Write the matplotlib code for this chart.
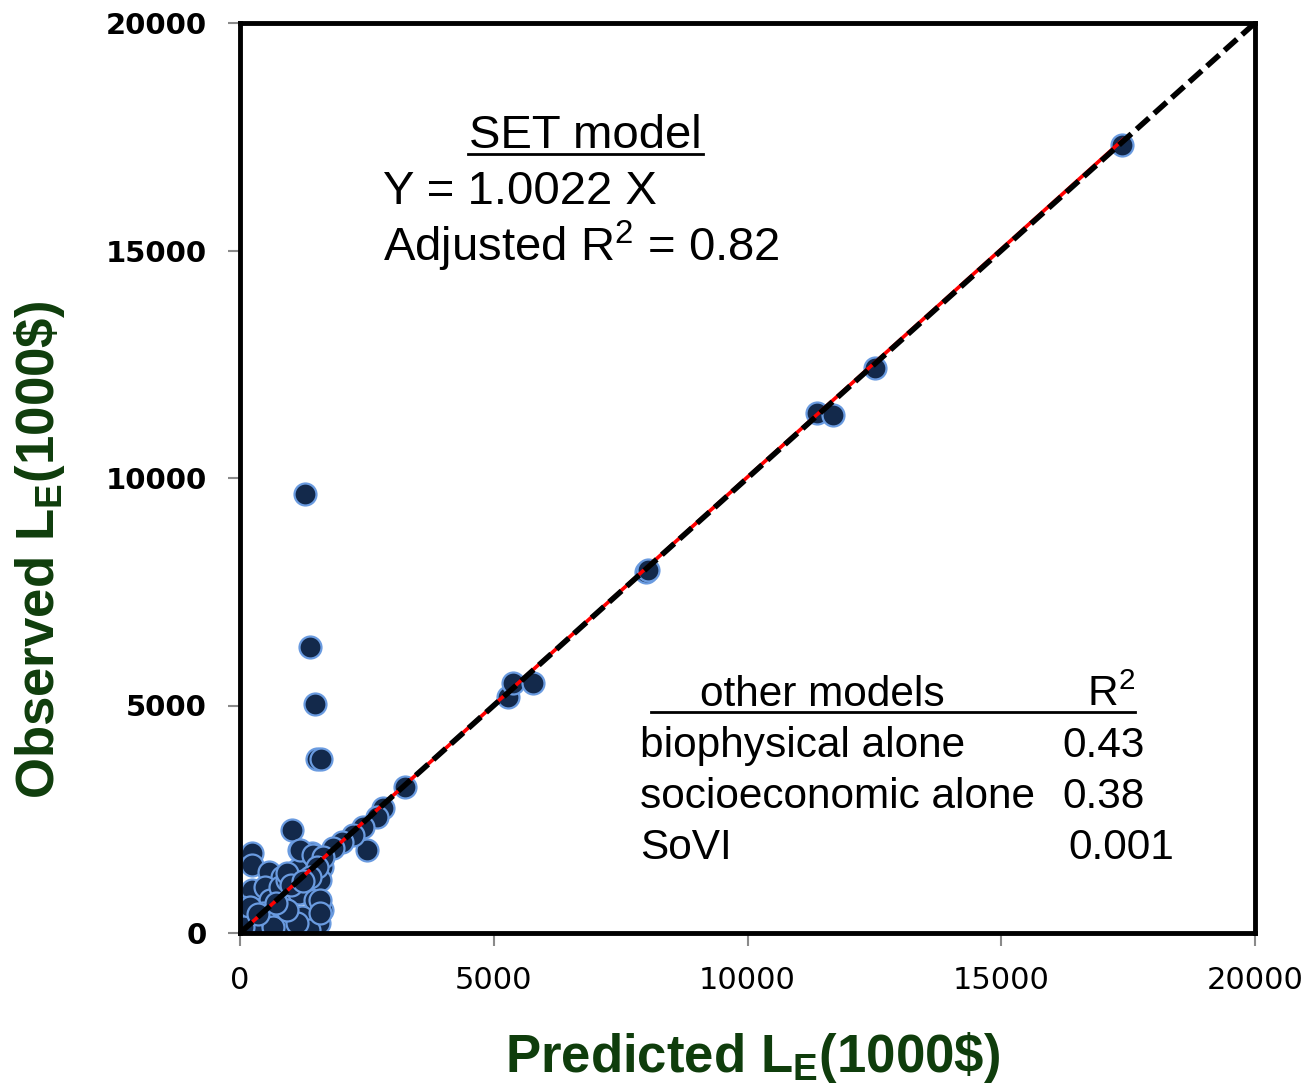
import matplotlib
matplotlib.use('Agg')
import matplotlib.pyplot as plt

plt.rcParams['mathtext.fontset'] = 'custom'
plt.rcParams['mathtext.rm'] = 'Liberation Sans'
plt.rcParams['mathtext.bf'] = 'Liberation Sans:bold'
plt.rcParams['lines.scale_dashes'] = False

# predicted vs observed losses (1000$)
predicted = [236, 236, 570, 830, 1160, 1420, 1610, 1280, 236, 490, 890, 1160, 1480,
             1610, 1560, 1220, 1020, 490, 100, 40, 20, 630, 890, 236, 770, 1360,
             590, 450, 200, 60, 650, 790, 920, 1120, 1580, 1580, 1580, 1120, 920,
             1020, 2500, 1180, 1440, 920, 3250, 2820, 2700, 2420, 2230, 2010, 1830,
             1640, 1520, 1380, 350, 700, 1000, 1250,
             1280, 1380, 1480, 1520, 1600,
             5280, 5380, 5770, 8000, 8040, 11370, 11680, 12510, 17380]
observed = [1758, 1495, 1340, 1230, 1820, 1760, 1450, 1320, 945, 1010, 945, 880, 725,
            505, 220, 350, 130, 286, 286, 570, 60, 570, 505, 66, 66, 66,
            730, 440, 570, 130, 130, 1010, 1160, 1380, 1160, 730, 440, 220, 510,
            2260, 1820, 1820, 1710, 1320, 3200, 2750, 2550, 2330, 2150, 2000, 1870,
            1670, 1450, 1230, 420, 650, 1050, 1150,
            9650, 6290, 5030, 3830, 3820,
            5190, 5490, 5490, 7930, 7980, 11430, 11380, 12420, 17320]

slope = 1.0022
fit_end = 17400
ticks = [0, 5000, 10000, 15000, 20000]

other_models = ['biophysical alone', 'socioeconomic alone', 'SoVI']
other_r2 = ['0.43', '0.38', '0.001']

green = '#0f3d0c'

fig = plt.figure(figsize=(13.16, 10.84), dpi=100)
ax = fig.add_axes([240/1316, 1 - 933/1084, 1015/1316, 910/1084])

ax.scatter(predicted, observed, s=250, color='#13294b', edgecolors='#6a9be0',
           linewidths=1.6, zorder=2)
ax.plot([0, fit_end], [0, slope*fit_end], color='red', lw=2.6, zorder=3)
ax.plot([0, 20000], [0, 20000], color='black', lw=4, dashes=(12, 5), zorder=4)

ax.set_xlim(0, 20000)
ax.set_ylim(0, 20000)
ax.set_xticks(ticks)
ax.set_yticks(ticks)
for s in ax.spines.values():
    s.set_linewidth(3.5)
    s.set_color('black')
ax.tick_params(axis='both', length=9, width=1.5, color='#8a8a8a')
ax.tick_params(axis='x', pad=15, labelsize=22)
ax.tick_params(axis='y', pad=15, labelsize=21)
for lbl in ax.get_yticklabels():
    lbl.set_fontweight('bold')

fig.text(752/1316, 1 - 1072/1084, r'Predicted L$_\mathbf{E}$(1000\$)', color=green,
         fontsize=38, fontweight='bold', family='Liberation Sans',
         ha='center', va='baseline')
fig.text(40/1316, 1 - 550/1084, r'Observed L$_\mathbf{E}$(1000\$)', color=green,
         fontsize=38, fontweight='bold', family='Liberation Sans',
         ha='center', va='center', rotation=90)

# SET model box
def axf(px, py):
    return (px - 240) / 1015, (933 - py) / 910

tkw = dict(transform=ax.transAxes, family='Liberation Sans', color='black', va='baseline')
ax.text(*axf(585, 148), 'SET model', fontsize=34, ha='center', **tkw)
ax.plot(*zip(axf(468, 154), axf(703, 154)), transform=ax.transAxes, color='black', lw=2)
ax.text(*axf(383, 204), 'Y = 1.0022 X', fontsize=34, ha='left', **tkw)
ax.text(*axf(383, 261), r'Adjusted R$^2$ = 0.82', fontsize=34, ha='left', **tkw)

# other models table
ax.text(*axf(822, 706), 'other models', fontsize=30.5, ha='center', **tkw)
ax.text(*axf(1135, 706), r'R$^2$', fontsize=30.5, ha='right', **tkw)
ax.plot(*zip(axf(651, 712), axf(1135, 712)), transform=ax.transAxes, color='black', lw=2)
for i, (name, r2) in enumerate(zip(other_models, other_r2)):
    y = 757 + 51*i
    ax.text(*axf(640, y), name, fontsize=30.5, ha='left', **tkw)
    ax.text(*axf(1062 if r2 != '0.001' else 1068, y), r2, fontsize=30.5, ha='left', **tkw)

fig.savefig('out.png', dpi=100)
